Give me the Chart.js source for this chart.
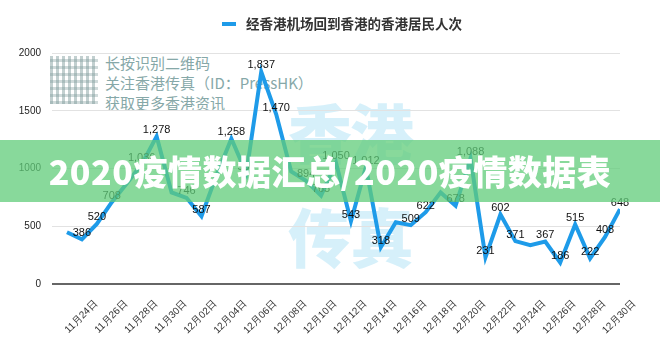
<!DOCTYPE html>
<html lang="zh">
<head>
  <meta charset="UTF-8">
  <title>经香港机场回到香港的香港居民人次</title>
  <script src="https://cdn.jsdelivr.net/npm/chart.js"></script>
  <style>
    body { margin: 0; background: #fff; }
    #wrap { position: relative; width: 660px; height: 343px; overflow: hidden; background: #fff; }
    #wrap canvas { position: absolute; left: 0; top: 0; }

    /* faint logo watermark behind the chart */
    .wm-big {
      position: absolute; left: 288px; top: 78px;
      font-family: 'Noto Sans CJK SC', sans-serif; font-weight: 900;
      font-size: 64px; line-height: 104px; letter-spacing: -2px;
      color: rgba(120, 205, 240, 0.3);
    }
    .qr {
      position: absolute; left: 50px; top: 56px; width: 48px; height: 48px;
      background:
        repeating-linear-gradient(90deg, rgba(120,150,150,.45) 0 3px, transparent 3px 6px),
        repeating-linear-gradient(0deg, rgba(120,150,150,.35) 0 3px, transparent 3px 7px);
    }
    .wm-text {
      position: absolute; left: 105px; top: 53px;
      font-family: 'Noto Sans CJK SC', sans-serif; font-size: 15px; line-height: 20px;
      color: #86a8a8;
    }

    .legend {
      position: absolute; left: 222px; top: 13px;
      font-family: 'Noto Sans CJK SC', sans-serif; font-weight: 700; font-size: 13.5px;
      color: #333; white-space: nowrap;
    }
    .legend .mark {
      display: inline-block; width: 14px; height: 4px; background: #1e9be9;
      vertical-align: middle; margin-right: 10px; position: relative; top: -1px;
    }

    .banner {
      position: absolute; left: 0; top: 140px; width: 660px; height: 62px;
      background: rgba(96, 204, 121, 0.75);
      color: #fff; text-align: center; line-height: 62px;
      font-family: 'Noto Sans CJK SC', sans-serif; font-weight: 900; font-size: 34px;
      letter-spacing: 0.5px;
    }
  </style>
</head>
<body>
<div id="wrap">
  <div class="wm-big">香港<br>传真</div>
  <div class="qr"></div>
  <div class="wm-text">长按识别二维码<br>关注香港传真（ID：PressHK）<br>获取更多香港资讯</div>
  <canvas id="chart" width="660" height="343"></canvas>
  <div class="legend"><span class="mark"></span>经香港机场回到香港的香港居民人次</div>
  <div class="banner">2020疫情数据汇总/2020疫情数据表</div>
</div>

<script>
  // daily dates, 11/23 .. 12/30
  const dates = [
    '11月23日', '11月24日', '11月25日', '11月26日', '11月27日', '11月28日', '11月29日', '11月30日',
    '12月01日', '12月02日', '12月03日', '12月04日', '12月05日', '12月06日', '12月07日', '12月08日',
    '12月09日', '12月10日', '12月11日', '12月12日', '12月13日', '12月14日', '12月15日', '12月16日',
    '12月17日', '12月18日', '12月19日', '12月20日', '12月21日', '12月22日', '12月23日', '12月24日',
    '12月25日', '12月26日', '12月27日', '12月28日', '12月29日', '12月30日'
  ];

  // residents returning through the airport
  const residents = [
    448, 386, 520, 708, 870, 1036, 1278, 793,
    746, 587, 940, 1258, 958, 1837, 1470, 975,
    894, 765, 1050, 543, 1012, 318, 534, 509,
    622, 793, 678, 1088, 231, 602, 371, 336,
    367, 186, 515, 222, 408, 648
  ];

  // points that carry no value label in the original
  const unlabelled = [0, 4, 7, 10, 15, 22, 25, 31];

  const yTicks = [0, 500, 1000, 1500, 2000];

  // draws the number above each labelled point
  const valueLabels = {
    id: 'valueLabels',
    afterDatasetsDraw(chart) {
      const ctx = chart.ctx;
      const meta = chart.getDatasetMeta(0);
      ctx.save();
      ctx.font = '11px "Liberation Sans", Arial, sans-serif';
      ctx.fillStyle = '#111';
      ctx.textAlign = 'center';
      ctx.textBaseline = 'bottom';
      meta.data.forEach((pt, i) => {
        if (unlabelled.includes(i)) return;
        ctx.fillText(residents[i].toLocaleString('en-US'), pt.x, pt.y - 1);
      });
      ctx.restore();
    }
  };

  new Chart(document.getElementById('chart'), {
    type: 'line',
    data: {
      datasets: [{
        label: '经香港机场回到香港的香港居民人次',
        data: residents.map((v, i) => ({ x: i, y: v })),
        borderColor: '#1e9be9',
        backgroundColor: '#1e9be9',
        borderWidth: 4,
        pointRadius: 0,
        tension: 0,
        fill: false
      }]
    },
    options: {
      responsive: false,
      animation: false,
      layout: { padding: { top: 53, right: 40, left: 0, bottom: 0 } },
      plugins: { legend: { display: false }, tooltip: { enabled: false } },
      scales: {
        x: {
          type: 'linear',
          min: -1,
          max: dates.length - 1,
          grid: { display: false },
          border: { display: false },
          afterFit(scale) { scale.height = 59; },
          afterBuildTicks(scale) {
            scale.ticks = dates.map((d, i) => ({ value: i }));
          },
          ticks: {
            autoSkip: false,
            minRotation: 45,
            maxRotation: 45,
            padding: 6,
            labelOffset: 14,
            color: '#333',
            font: { family: '"Liberation Sans", Arial, sans-serif', size: 10 },
            callback: (v) => (v % 2 === 1 ? dates[v] : '')
          }
        },
        y: {
          min: 0,
          max: 2000,
          afterFit(scale) { scale.width = 52; },
          afterBuildTicks(scale) {
            scale.ticks = yTicks.map(v => ({ value: v }));
          },
          border: { display: false },
          grid: {
            drawTicks: false,
            color: (c) => (c.tick && c.tick.value === 0 ? '#666' : '#e2e2e2'),
            lineWidth: (c) => (c.tick && c.tick.value === 0 ? 2 : 1)
          },
          ticks: {
            padding: 11,
            color: '#222',
            font: { family: '"Liberation Sans", Arial, sans-serif', size: 10 },
            callback: (v) => String(v)
          }
        }
      }
    },
    plugins: [valueLabels]
  });
</script>
</body>
</html>
